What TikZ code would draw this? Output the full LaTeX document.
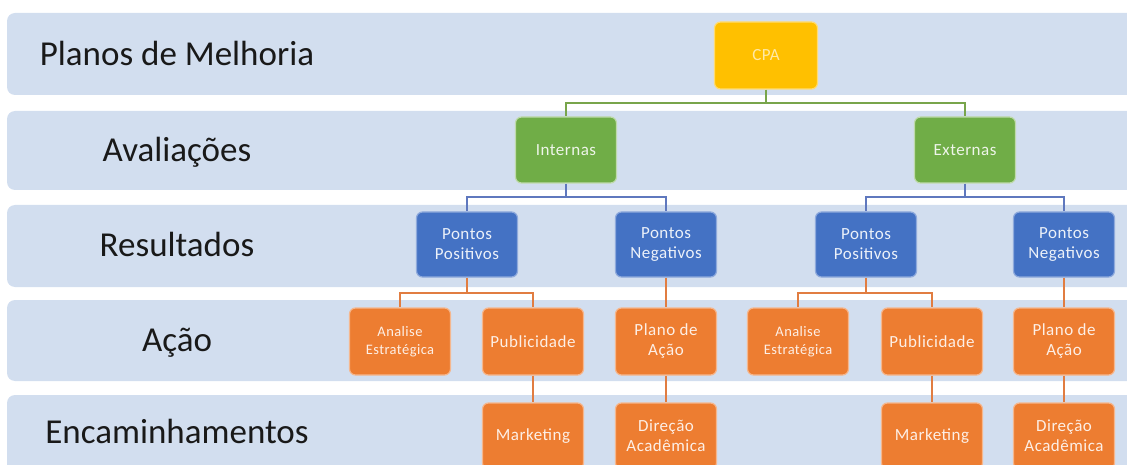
\documentclass[tikz,border=0pt]{standalone}
\usepackage{fontspec}
\setmainfont{Carlito}
\newfontfamily\boxfam{Carlito}[LetterSpace=3]
\definecolor{bandc}{RGB}{210,222,239}
\definecolor{cyel}{RGB}{255,192,0}
\definecolor{cgrn}{RGB}{112,173,71}
\definecolor{cblu}{RGB}{68,114,196}
\definecolor{corg}{RGB}{237,125,49}
\definecolor{lgrn}{RGB}{120,165,75}
\definecolor{lblu}{RGB}{95,120,190}
\definecolor{lorg}{RGB}{225,125,65}
\tikzset{
  band/.style={fill=bandc, draw=none, rounded corners=8pt},
  lab/.style={anchor=base, font=\fontsize{35}{40}\selectfont, text=black!90},
  box/.style={rounded corners=6pt, minimum width=101pt, minimum height=66pt,
    align=center, inner sep=2pt, line width=1.2pt,
    font=\boxfam\fontsize{17}{20}\selectfont},
  ybox/.style={box, fill=cyel, draw=cyel!55!white, text=cyel!35!white},
  gbox/.style={box, fill=cgrn, draw=cgrn!45!white, text=cgrn!12!white},
  bbox/.style={box, fill=cblu, draw=cblu!60!white, text=cblu!10!white},
  obox/.style={box, fill=corg, draw=corg!55!white, text=corg!12!white},
  small/.style={font=\boxfam\fontsize{14.5}{18}\selectfont},
  gline/.style={draw=lgrn, line width=2pt},
  bline/.style={draw=lblu, line width=2pt},
  oline/.style={draw=lorg, line width=2pt},
}
\begin{document}
\begin{tikzpicture}[x=1pt, y=-1pt]
\useasboundingbox (0,0) rectangle (1127,465);
\clip (0,0) rectangle (1127,465);
% bands
\fill[band] (7,13) rectangle (1140,95);
\fill[band] (7,111) rectangle (1140,190);
\fill[band] (7,205) rectangle (1140,287);
\fill[band] (7,300) rectangle (1140,381);
\fill[band] (7,395) rectangle (1140,478);
% labels
\node[lab] (l1) at (177,66) {Planos de Melhoria};
\node[lab] (l2) at (177,162) {Avaliações};
\node[lab] (l3) at (177,256) {Resultados};
\node[lab] (l4) at (177,351) {Ação};
\node[lab] (l5) at (177,443) {Encaminhamentos};
% bus coordinates
\coordinate (gy) at (0,103);
\coordinate (by) at (0,197);
\coordinate (oy) at (0,293);
% boxes
\node[ybox, minimum width=103pt, minimum height=67pt] (cpa) at (766,55.5) {CPA};
\node[gbox] (int) at (566,150) {Internas};
\node[gbox] (ext) at (965,150) {Externas};
\node[bbox, minimum height=65pt] (ppl) at (467,244.5) {Pontos\\Positivos};
\node[bbox, minimum height=65pt] (pnl) at (666,244.5) {Pontos\\Negativos};
\node[bbox, minimum height=65pt] (ppr) at (866,244.5) {Pontos\\Positivos};
\node[bbox, minimum height=65pt] (pnr) at (1064,244.5) {Pontos\\Negativos};
\node[obox, small, minimum height=67pt] (ael) at (400,341.5) {Analise\\Estratégica};
\node[obox, minimum height=67pt] (publ) at (533,341.5) {Publicidade};
\node[obox, minimum height=67pt] (pdal) at (666,341.5) {Plano de\\Ação};
\node[obox, small, minimum height=67pt] (aer) at (798,341.5) {Analise\\Estratégica};
\node[obox, minimum height=67pt] (pubr) at (932,341.5) {Publicidade};
\node[obox, minimum height=67pt] (pdar) at (1064,341.5) {Plano de\\Ação};
\node[obox] (mkl) at (533,436) {Marketing};
\node[obox] (dal) at (666,436) {Direção\\Acadêmica};
\node[obox] (mkr) at (932,436) {Marketing};
\node[obox] (dar) at (1064,436) {Direção\\Acadêmica};
% connectors
\draw[gline] (cpa.south) -- (cpa.south |- gy) -| (int.north);
\draw[gline] (cpa.south |- gy) -| (ext.north);
\draw[bline] (int.south) -- (int.south |- by) -| (ppl.north);
\draw[bline] (int.south |- by) -| (pnl.north);
\draw[bline] (ext.south) -- (ext.south |- by) -| (ppr.north);
\draw[bline] (ext.south |- by) -| (pnr.north);
\draw[oline] (ppl.south) -- (ppl.south |- oy) -| (ael.north);
\draw[oline] (ppl.south |- oy) -| (publ.north);
\draw[oline] (pnl.south) -- (pdal.north);
\draw[oline] (ppr.south) -- (ppr.south |- oy) -| (aer.north);
\draw[oline] (ppr.south |- oy) -| (pubr.north);
\draw[oline] (pnr.south) -- (pdar.north);
\draw[oline] (publ.south) -- (mkl.north);
\draw[oline] (pdal.south) -- (dal.north);
\draw[oline] (pubr.south) -- (mkr.north);
\draw[oline] (pdar.south) -- (dar.north);
\end{tikzpicture}
\end{document}
